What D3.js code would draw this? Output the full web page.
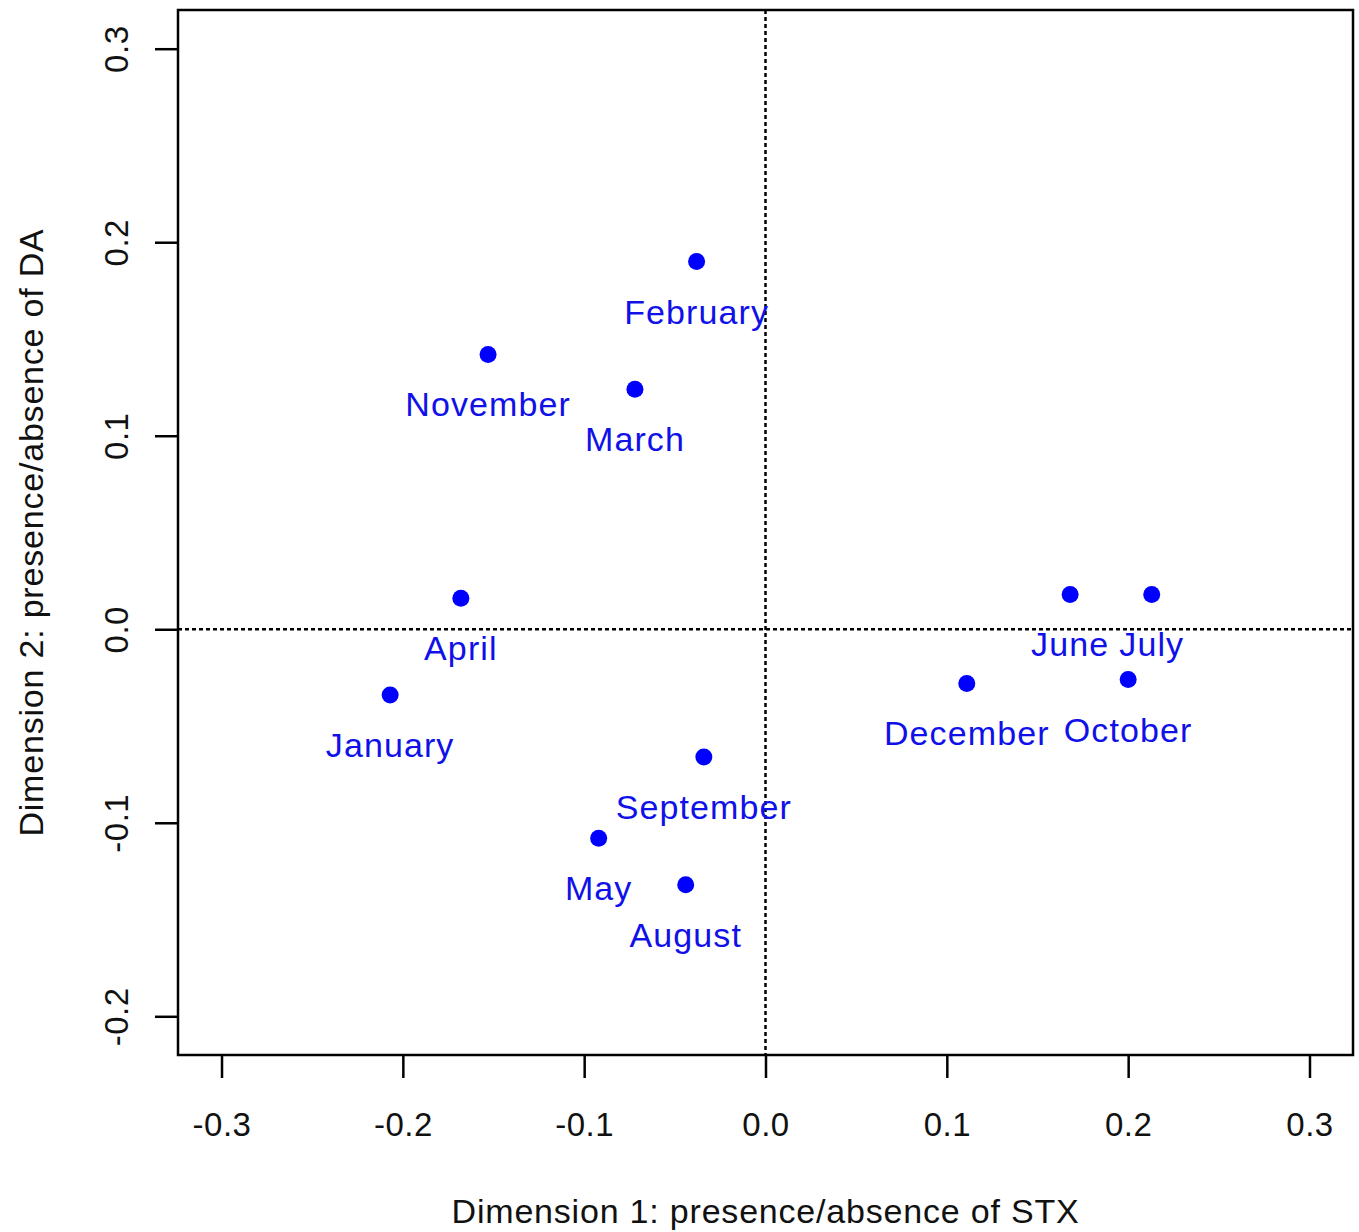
<!DOCTYPE html>
<html>
<head>
<meta charset="utf-8">
<script src="https://cdn.jsdelivr.net/npm/d3@7"></script>
<style>
  html, body { margin: 0; padding: 0; background: #fff; }
  svg { display: block; font-family: "Liberation Sans", Arial, sans-serif; }
</style>
</head>
<body>
<svg id="chart" width="1359" height="1232"></svg>
<script>
// Monthly scores on the first two dimensions
const months = ["January", "February", "March", "April", "May", "June",
                "July", "August", "September", "October", "November", "December"];
const dim1 = [-0.207, -0.038, -0.072, -0.168, -0.092, 0.168,
              0.213, -0.044, -0.034, 0.200, -0.153, 0.111];
const dim2 = [-0.034, 0.190, 0.124, 0.016, -0.108, 0.018,
              0.018, -0.132, -0.066, -0.026, 0.142, -0.028];

const xTicks = [-0.3, -0.2, -0.1, 0.0, 0.1, 0.2, 0.3];
const yTicks = [-0.2, -0.1, 0.0, 0.1, 0.2, 0.3];

const xTitle = "Dimension 1: presence/absence of STX";
const yTitle = "Dimension 2: presence/absence of DA";

const svg = d3.select("#chart");
const box = { left: 178, right: 1353, top: 10, bottom: 1055 };

// Limits -0.3..0.3 and -0.2..0.3 with a 4% margin on each side
const x = d3.scaleLinear().domain([-0.324, 0.324]).range([box.left, box.right]);
const y = d3.scaleLinear().domain([-0.22, 0.32]).range([box.bottom, box.top]);

// One decimal, plain hyphen for negatives
const fmt = v => v.toFixed(1);

// Reference lines through the origin
svg.append("line")
  .attr("x1", x(0)).attr("x2", x(0))
  .attr("y1", box.top).attr("y2", box.bottom)
  .attr("stroke", "#000").attr("stroke-width", 2.5)
  .attr("stroke-dasharray", "4,3");
svg.append("line")
  .attr("x1", box.left).attr("x2", box.right)
  .attr("y1", y(0)).attr("y2", y(0))
  .attr("stroke", "#000").attr("stroke-width", 2.5)
  .attr("stroke-dasharray", "4,3");

// Bottom axis
const xAxis = svg.append("g")
  .attr("transform", `translate(0,${box.bottom})`)
  .call(d3.axisBottom(x).tickValues(xTicks).tickFormat(fmt)
        .tickSizeInner(23).tickSizeOuter(0).tickPadding(35));
xAxis.select(".domain").remove();
xAxis.selectAll(".tick line").attr("stroke", "#000").attr("stroke-width", 2.5);
xAxis.selectAll(".tick text")
  .attr("font-size", 33).attr("fill", "#111").attr("letter-spacing", 0.5)
  .attr("font-family", "'Liberation Sans', Arial, sans-serif");

// Left axis with vertical labels
const yAxis = svg.append("g")
  .attr("transform", `translate(${box.left},0)`)
  .call(d3.axisLeft(y).tickValues(yTicks).tickFormat(fmt)
        .tickSizeInner(23).tickSizeOuter(0));
yAxis.select(".domain").remove();
yAxis.selectAll(".tick line").attr("stroke", "#000").attr("stroke-width", 2.5);
yAxis.selectAll(".tick text")
  .attr("font-size", 33).attr("fill", "#111").attr("letter-spacing", 0.5)
  .attr("font-family", "'Liberation Sans', Arial, sans-serif")
  .attr("x", null).attr("dy", null)
  .attr("text-anchor", "middle")
  .attr("transform", `translate(${128 - box.left},0) rotate(-90)`);

// Plot frame
svg.append("rect")
  .attr("x", box.left).attr("y", box.top)
  .attr("width", box.right - box.left).attr("height", box.bottom - box.top)
  .attr("fill", "none").attr("stroke", "#000").attr("stroke-width", 2.5);

// Points and month labels
const pts = months.map((m, i) => ({ name: m, d1: dim1[i], d2: dim2[i] }));

svg.append("g").selectAll("circle").data(pts).join("circle")
  .attr("cx", d => x(d.d1)).attr("cy", d => y(d.d2))
  .attr("r", 8.5).attr("fill", "#0000ff");

svg.append("g").selectAll("text").data(pts).join("text")
  .attr("x", d => x(d.d1)).attr("y", d => y(d.d2) + 62)
  .attr("text-anchor", "middle")
  .attr("font-size", 34).attr("letter-spacing", 1.1)
  .attr("fill", "#1010e8")
  .text(d => d.name);

// Axis titles
svg.append("text")
  .attr("x", (box.left + box.right) / 2).attr("y", 1223)
  .attr("text-anchor", "middle").attr("font-size", 34).attr("fill", "#111")
  .attr("letter-spacing", 0.8)
  .text(xTitle);
svg.append("text")
  .attr("transform", `translate(43,${(box.top + box.bottom) / 2}) rotate(-90)`)
  .attr("text-anchor", "middle").attr("font-size", 34).attr("fill", "#111")
  .attr("letter-spacing", 0.8)
  .text(yTitle);
</script>
</body>
</html>
